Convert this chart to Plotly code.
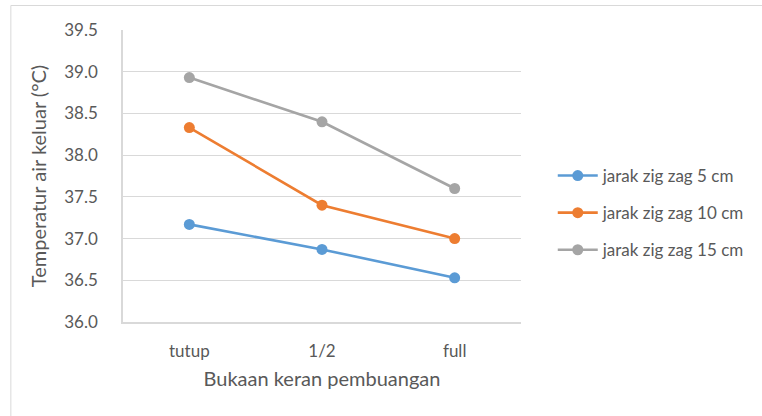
import plotly.graph_objects as go

categories = ["tutup", "1/2", "full"]
series_names = ["jarak zig zag 5 cm", "jarak zig zag 10 cm", "jarak zig zag 15 cm"]
jarak_5 = [37.17, 36.87, 36.53]
jarak_10 = [38.33, 37.40, 37.00]
jarak_15 = [38.93, 38.40, 37.60]
colors = ["#5B9BD5", "#ED7D31", "#A5A5A5"]

W, H = 762, 416
L, R, T, B = 123, 524, 30, 322

fig = go.Figure()
for i, (name, vals) in enumerate(zip(series_names, [jarak_5, jarak_10, jarak_15])):
    fig.add_trace(go.Scatter(
        x=categories, y=vals, name=name, mode="lines+markers",
        line=dict(color=colors[i], width=2.6),
        marker=dict(color=colors[i], size=11),
        legendgroup=name,
    ))

def px(x):
    return (x - L) / (R - L)

def py(y):
    return (B - y) / (B - T)

fig.add_shape(type="rect", xref="paper", yref="paper",
              x0=px(10), x1=px(800), y0=py(5.5), y1=py(430),
              line=dict(color="#D9D9D9", width=1), layer="below")

fig.add_annotation(text="cm.", xref="paper", yref="paper", x=px(0), y=py(3),
                   xanchor="left", yanchor="bottom", showarrow=False,
                   font=dict(family="Lato", size=16, color="#404040"))

font_family = "Lato, 'Open Sans', sans-serif"
fig.update_layout(
    width=W, height=H,
    margin=dict(l=L, r=W - R, t=T, b=H - B),
    paper_bgcolor="white", plot_bgcolor="white",
    font=dict(family=font_family, color="#595959", size=17),
    showlegend=True,
    legend=dict(x=px(556), y=py(213), xanchor="left", yanchor="middle",
                font=dict(size=17, color="#595959"),
                tracegroupgap=12, itemwidth=40, bgcolor="rgba(0,0,0,0)"),
    xaxis=dict(
        type="category", range=[-0.5, 2.5],
        showgrid=False, showline=True, linecolor="#D9D9D9", linewidth=1.5,
        ticks="", tickfont=dict(size=17, color="#595959"),
        ticklabelstandoff=13,
        title=dict(text="Bukaan keran pembuangan", font=dict(size=20, color="#595959"), standoff=12),
    ),
    yaxis=dict(
        range=[36.0, 39.5], dtick=0.5, tickformat=".1f",
        showgrid=True, gridcolor="#D9D9D9", gridwidth=1.2,
        showline=True, linecolor="#D9D9D9", linewidth=1.5,
        zeroline=False, ticks="", tickfont=dict(size=17, color="#595959"),
        ticklabelstandoff=20,
        title=dict(text="Temperatur air keluar (°C)", font=dict(size=20, color="#595959"), standoff=12),
    ),
)

fig.write_html("out.html", config={"displayModeBar": False},
               post_script="document.body.style.margin='0';document.body.style.padding='0';")
